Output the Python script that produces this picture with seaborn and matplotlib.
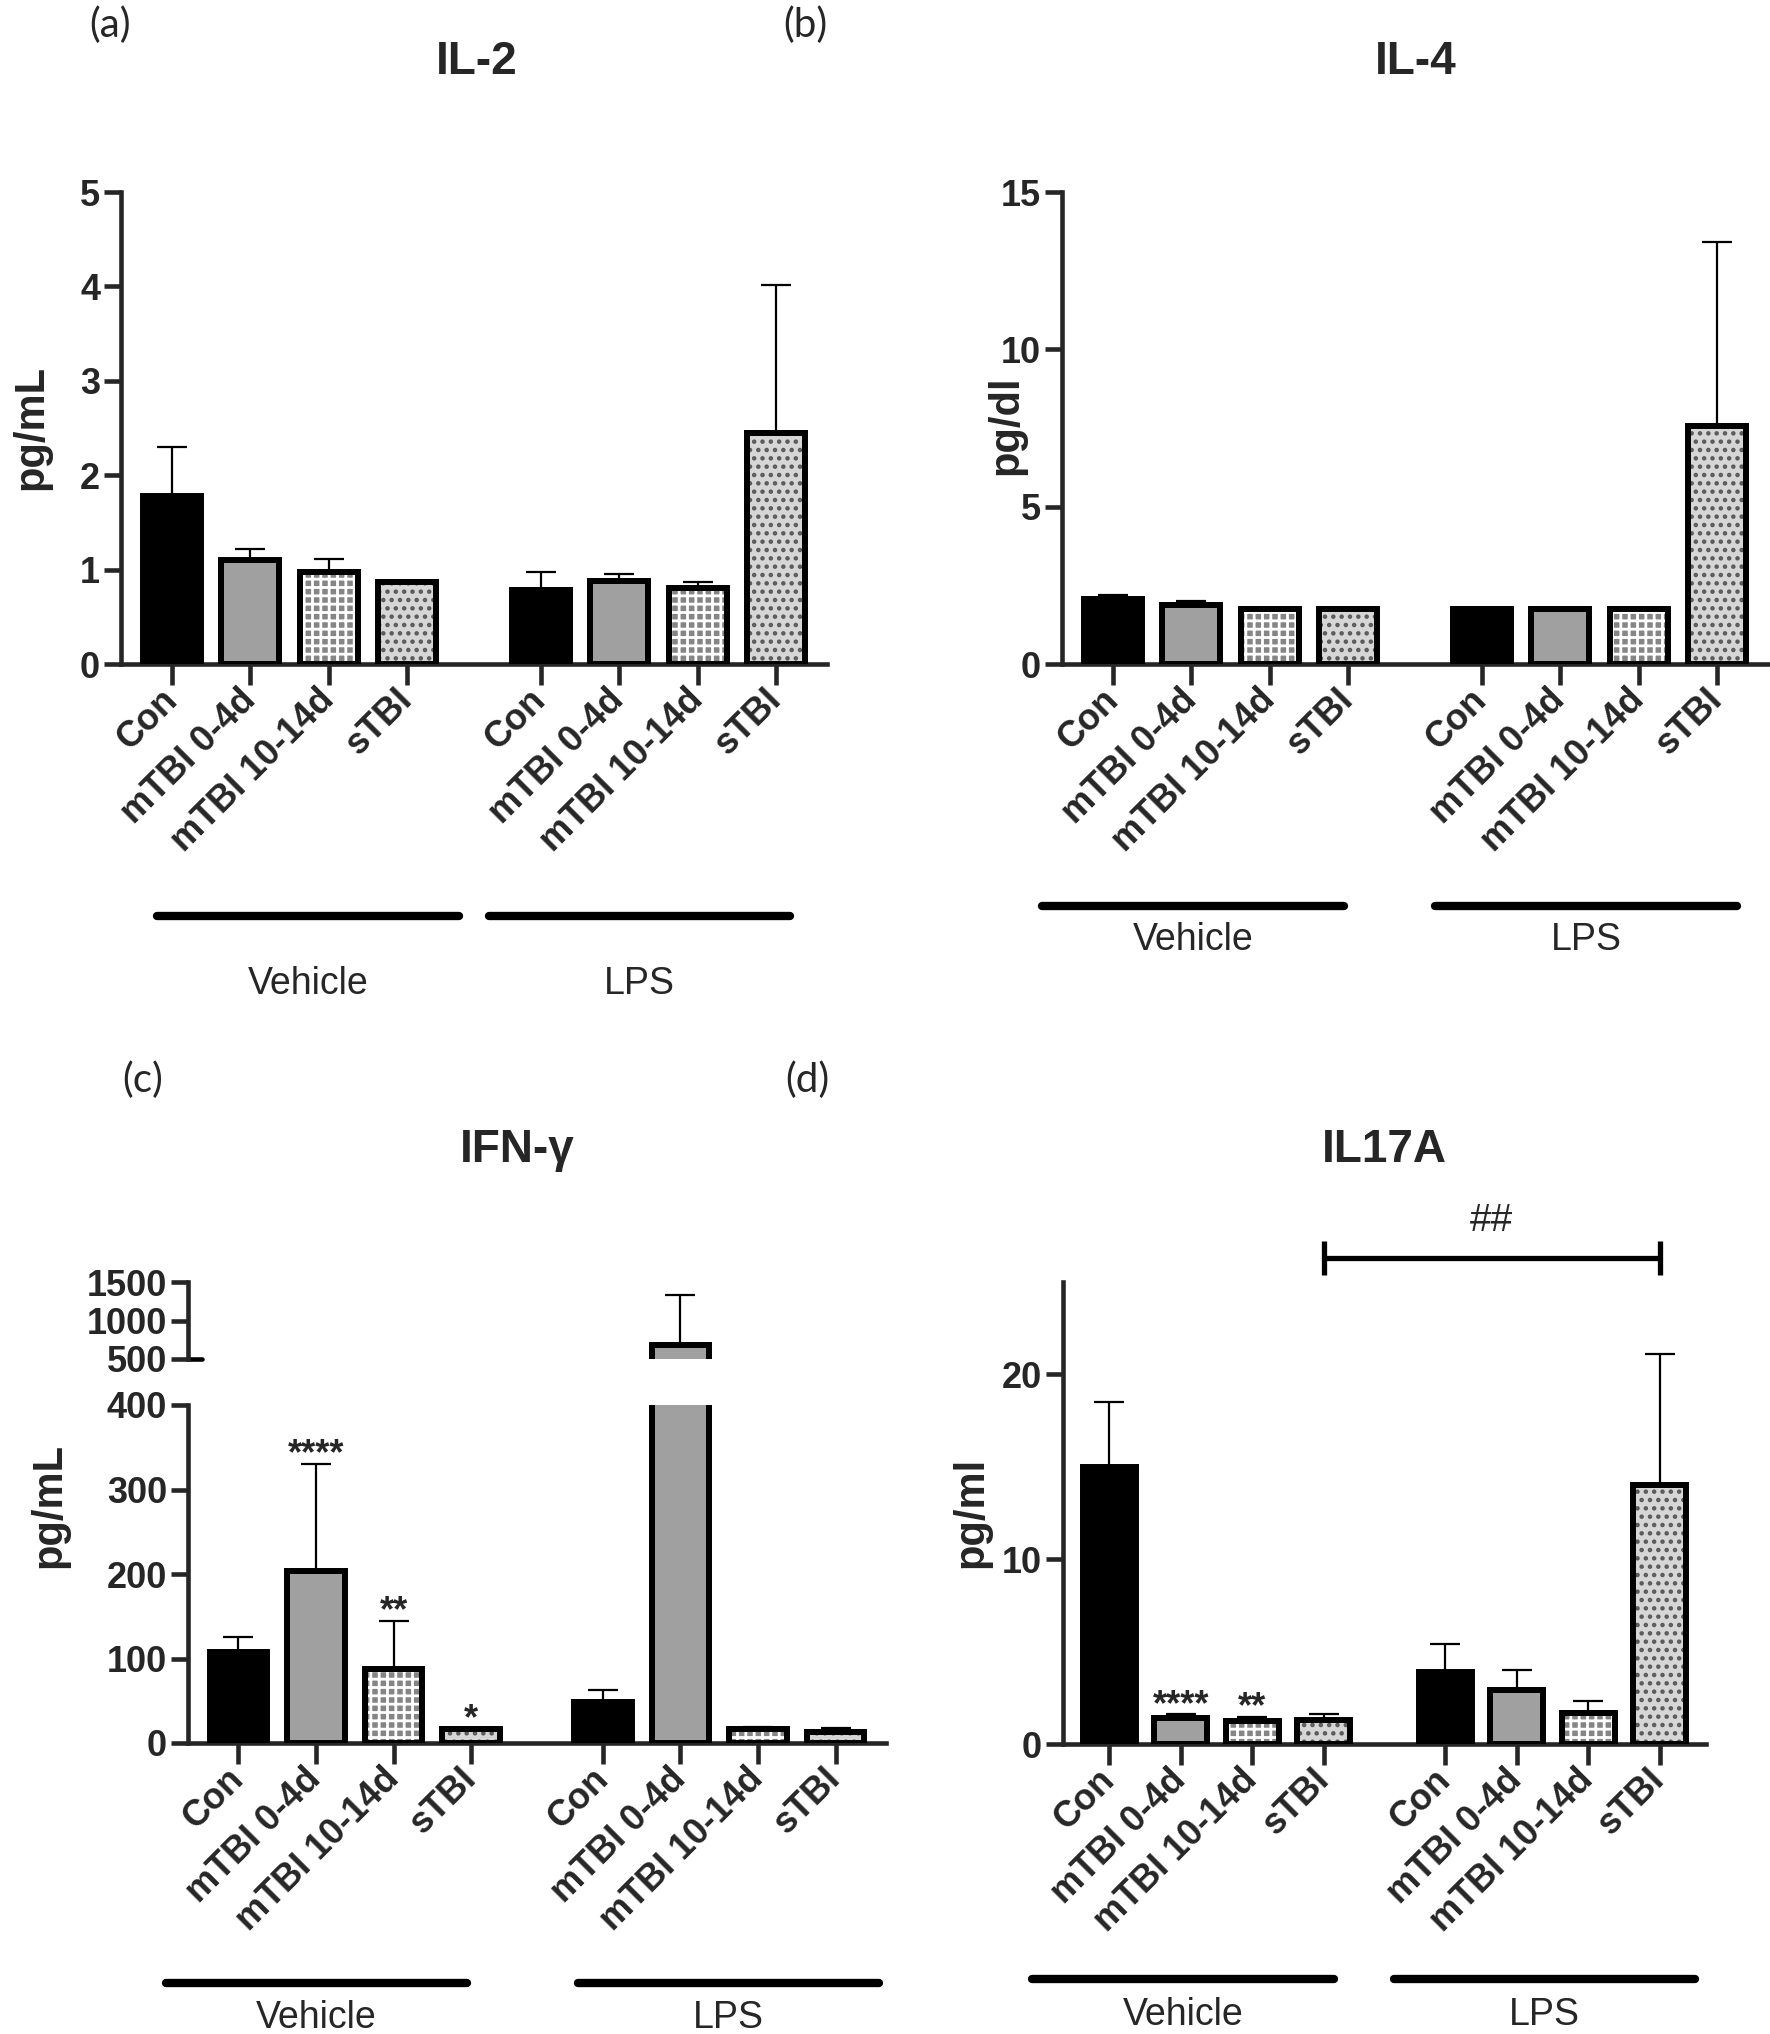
import numpy as np
import pandas as pd
import matplotlib
matplotlib.use('Agg')
import matplotlib.pyplot as plt
from matplotlib.lines import Line2D
import seaborn as sns

# categorias y posiciones
groups = ['Con', 'mTBI 0-4d', 'mTBI 10-14d', 'sTBI']
positions = [0, 1, 2, 3, 4.7, 5.7, 6.7, 7.7]

# IL-2 (media y extremo superior del error)
il2_veh = [1.78, 1.10, 0.97, 0.87]
il2_veh_top = [2.30, 1.22, 1.11, 0.87]
il2_lps = [0.78, 0.88, 0.80, 2.45]
il2_lps_top = [0.97, 0.95, 0.87, 4.01]

# IL-4
il4_veh = [2.05, 1.88, 1.75, 1.75]
il4_veh_top = [2.20, 2.00, 1.75, 1.75]
il4_lps = [1.75, 1.75, 1.75, 7.55]
il4_lps_top = [1.75, 1.75, 1.75, 13.4]

# IFN-gamma
ifn_veh = [108, 203, 88, 17]
ifn_veh_top = [125, 330, 144, 17]
ifn_lps = [49, 680, 17, 13]
ifn_lps_top = [63, 1330, 19, 18]
ifn_stars = ['', '****', '**', '*', '', '', '', '']

# IL17A
il17_veh = [15.0, 1.4, 1.25, 1.3]
il17_veh_top = [18.5, 1.6, 1.45, 1.6]
il17_lps = [3.9, 2.9, 1.7, 14.0]
il17_lps_top = [5.4, 4.0, 2.35, 21.1]
il17_stars = ['', '****', '**', '', '', '', '', '']

face = {'Con': '#000000', 'mTBI 0-4d': '#a0a0a0',
        'mTBI 10-14d': '#858585', 'sTBI': '#d6d6d6'}
hatches = {'mTBI 10-14d': ('++', 'white'), 'sTBI': ('..', '#5a5a5a')}

sns.set_style('ticks')
plt.rcParams['font.family'] = ['Liberation Sans', 'DejaVu Sans']
plt.rcParams['hatch.linewidth'] = 2.0

W, H = 1770, 2034
fig = plt.figure(figsize=(W / 100, H / 100), dpi=100)


def box(l, t, r, b):
    return [l / W, 1 - b / H, (r - l) / W, (b - t) / H]


def style_axis(ax, xaxis=True):
    sns.despine(ax=ax)
    ax.spines['left'].set_linewidth(3.3)
    ax.spines['bottom'].set_linewidth(3.3)
    ax.tick_params(axis='y', width=3.3, length=12, labelsize=26, pad=3)
    ax.tick_params(axis='x', width=3.3, length=15, labelsize=26, pad=7)
    for t in ax.get_yticklabels():
        t.set_fontweight('bold')
    ax.set_xlim(-0.65, 8.35)
    ax.set_xlabel('')
    ax.set_ylabel('')
    if xaxis:
        ax.set_xticks(positions, groups * 2, rotation=45, ha='right',
                      va='center', rotation_mode='anchor', fontweight='bold')
    else:
        ax.spines['bottom'].set_visible(False)
        ax.set_xticks([])


def draw_bars(ax, means, tops):
    kinds = groups * 2
    df = pd.DataFrame({'pos': positions, 'val': means, 'kind': kinds})
    sns.barplot(data=df, x='pos', y='val', hue='kind', palette=face,
                native_scale=True, dodge=False, width=0.74, linewidth=0,
                legend=False, ax=ax)
    pos = np.array(positions)
    vals = np.array(means, dtype=float)
    for kind, (h, hc) in hatches.items():
        m = np.array([k == kind for k in kinds])
        ax.bar(pos[m], vals[m], width=0.74, color='none', edgecolor=hc,
               hatch=h, linewidth=0)
    ax.bar(pos, vals, width=0.74, fill=False, edgecolor='black',
           linewidth=4.3, zorder=3)
    top = np.array(tops, dtype=float)
    e = top > vals
    ax.errorbar(pos[e], vals[e], yerr=[np.zeros(e.sum()), top[e] - vals[e]],
                fmt='none', ecolor='black', elinewidth=1.6, capsize=11,
                capthick=1.6, zorder=2.5)


def stars(ax, tops, marks):
    for p, t, s in zip(positions, tops, marks):
        if s:
            ax.annotate(s, (p, t), xytext=(0, -6), textcoords='offset points',
                        ha='center', va='bottom', fontsize=26, fontweight='bold')


def fig_text(x, y, s, **kw):
    fig.text(x / W, 1 - y / H, s, **kw)


def group_lines(y_line, y_text, seg1, seg2):
    for (x0, x1), lab in zip([seg1, seg2], ['Vehicle', 'LPS']):
        fig.add_artist(Line2D([x0 / W, x1 / W], [1 - y_line / H, 1 - y_line / H],
                              transform=fig.transFigure, color='black',
                              lw=6, solid_capstyle='round'))
        fig_text((x0 + x1) / 2, y_text, lab, ha='center', va='center',
                 fontsize=27)


# (a) IL-2
ax = fig.add_axes(box(121, 192, 827, 664))
draw_bars(ax, il2_veh + il2_lps, il2_veh_top + il2_lps_top)
ax.set_ylim(0, 5)
ax.set_yticks([0, 1, 2, 3, 4, 5])
style_axis(ax)
fig_text(477, 62, 'IL-2', ha='center', va='center', fontsize=33, fontweight='bold')
fig_text(31, 428, 'pg/mL', rotation=90, ha='center', va='center',
         fontsize=30, fontweight='bold')
group_lines(916, 984, (157, 459), (489, 790))

# (b) IL-4
ax = fig.add_axes(box(1062, 192, 1768, 664))
draw_bars(ax, il4_veh + il4_lps, il4_veh_top + il4_lps_top)
ax.set_ylim(0, 15)
ax.set_yticks([0, 5, 10, 15])
style_axis(ax)
fig_text(1416, 62, 'IL-4', ha='center', va='center', fontsize=33, fontweight='bold')
fig_text(1006, 425, 'pg/dl', rotation=90, ha='center', va='center',
         fontsize=30, fontweight='bold')
group_lines(906, 940, (1042, 1344), (1435, 1737))

# (c) IFN-gamma, eje cortado
ax_up = fig.add_axes(box(188, 1282, 886, 1359))
draw_bars(ax_up, ifn_veh + ifn_lps, ifn_veh_top + ifn_lps_top)
ax_up.set_ylim(500, 1500)
ax_up.set_yticks([500, 1000, 1500])
style_axis(ax_up, xaxis=False)
ax_up.axhline(500, xmin=0, xmax=0.02, color='black', lw=3.3, clip_on=False)

ax = fig.add_axes(box(188, 1405, 886, 1743))
draw_bars(ax, ifn_veh + ifn_lps, ifn_veh_top + ifn_lps_top)
ax.set_ylim(0, 400)
ax.set_yticks([0, 100, 200, 300, 400])
style_axis(ax)
stars(ax, ifn_veh_top + ifn_lps_top, ifn_stars)
fig_text(517, 1150, 'IFN-γ', ha='center', va='center', fontsize=33, fontweight='bold')
fig_text(49, 1505, 'pg/mL', rotation=90, ha='center', va='center',
         fontsize=30, fontweight='bold')
group_lines(1983, 2018, (166, 467), (578, 879))

# (d) IL17A
ax = fig.add_axes(box(1063, 1282, 1706, 1744))
draw_bars(ax, il17_veh + il17_lps, il17_veh_top + il17_lps_top)
ax.set_ylim(0, 25)
ax.set_yticks([0, 10, 20])
style_axis(ax)
stars(ax, il17_veh_top + il17_lps_top, il17_stars)
ax.plot([positions[3], positions[7]], [26.3, 26.3], color='black', lw=3.8,
        marker='|', markersize=24, mew=3.8, clip_on=False)
ax.text((positions[3] + positions[7]) / 2, 28.3, '##', ha='center', va='center',
        fontsize=28, clip_on=False)
fig_text(1384, 1150, 'IL17A', ha='center', va='center', fontsize=33, fontweight='bold')
fig_text(971, 1512, 'pg/ml', rotation=90, ha='center', va='center',
         fontsize=30, fontweight='bold')
group_lines(1979, 2015, (1032, 1334), (1394, 1695))

# etiquetas de panel
for x, y, s in [(110, 25, '(a)'), (805, 25, '(b)'), (143, 1080, '(c)'), (807, 1080, '(d)')]:
    fig_text(x, y, s, ha='center', va='center', fontsize=29,
             family=['Lato', 'DejaVu Sans'])

fig.savefig('out.png', dpi=100)
